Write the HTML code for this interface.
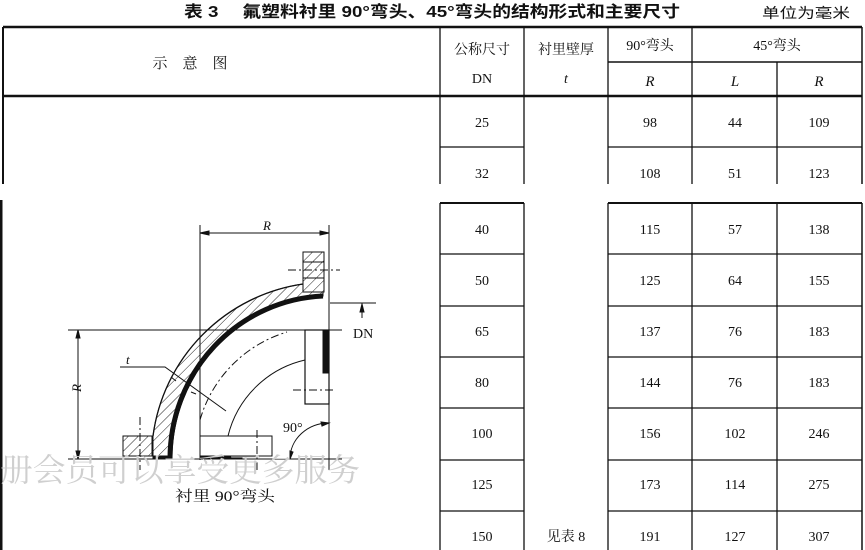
<!DOCTYPE html>
<html><head><meta charset="utf-8"><style>
html,body{margin:0;padding:0;background:#fff;}
svg{display:block;}
text{font-family:"Liberation Serif","Noto Serif CJK SC",serif;fill:#111;}
.c{font-family:"Liberation Sans","Noto Sans CJK SC",sans-serif;}
</style></head><body>
<svg width="865" height="550" viewBox="0 0 865 550" xmlns="http://www.w3.org/2000/svg">
<defs>
<pattern id="h" width="7" height="7" patternUnits="userSpaceOnUse" patternTransform="rotate(45)">
<line x1="0" y1="0" x2="0" y2="7" stroke="#222" stroke-width="1"/></pattern>
</defs>
<!-- title -->
<text x="184" y="17" class="c" font-size="16" font-weight="bold" textLength="496" lengthAdjust="spacingAndGlyphs">表 3　 氟塑料衬里 90°弯头、45°弯头的结构形式和主要尺寸</text>
<text x="762" y="18" class="c" font-size="14" textLength="88" lengthAdjust="spacingAndGlyphs">单位为毫米</text>

<!-- upper table -->
<g stroke="#111" fill="none">
<line x1="3" y1="27" x2="862" y2="27" stroke-width="2.5"/>
<line x1="3" y1="96" x2="862" y2="96" stroke-width="2.5"/>
<line x1="608" y1="62" x2="862" y2="62" stroke-width="1.5"/>
<line x1="3" y1="27" x2="3" y2="184" stroke-width="2"/>
<line x1="440" y1="27" x2="440" y2="184" stroke-width="1.3"/>
<line x1="524" y1="27" x2="524" y2="184" stroke-width="1.3"/>
<line x1="608" y1="27" x2="608" y2="184" stroke-width="1.3"/>
<line x1="692" y1="27" x2="692" y2="184" stroke-width="1.3"/>
<line x1="777" y1="62" x2="777" y2="184" stroke-width="1.3"/>
<line x1="862" y1="27" x2="862" y2="184" stroke-width="1.5"/>
<line x1="440" y1="147" x2="524" y2="147" stroke-width="1.3"/>
<line x1="608" y1="147" x2="862" y2="147" stroke-width="1.3"/>
</g>
<g font-size="14" text-anchor="middle">
<text x="190" y="68" font-size="15">示　意　图</text>
<text x="482" y="54">公称尺寸</text>
<text x="482" y="83">DN</text>
<text x="566" y="54">衬里壁厚</text>
<text x="566" y="83" font-style="italic">t</text>
<text x="650" y="50">90°弯头</text>
<text x="777" y="50">45°弯头</text>
<text x="650" y="86" font-style="italic" font-size="15">R</text>
<text x="735" y="86" font-style="italic" font-size="15">L</text>
<text x="819" y="86" font-style="italic" font-size="15">R</text>
<text x="482" y="127">25</text><text x="650" y="127">98</text><text x="735" y="127">44</text><text x="819" y="127">109</text>
<text x="482" y="178">32</text><text x="650" y="178">108</text><text x="735" y="178">51</text><text x="819" y="178">123</text>
</g>

<!-- lower table -->
<g stroke="#111" fill="none" stroke-width="1.3">
<line x1="1" y1="200" x2="1" y2="550" stroke-width="3"/>
<line x1="440" y1="203" x2="440" y2="550"/>
<line x1="524" y1="203" x2="524" y2="550"/>
<line x1="608" y1="203" x2="608" y2="550"/>
<line x1="692" y1="203" x2="692" y2="550"/>
<line x1="777" y1="203" x2="777" y2="550"/>
<line x1="862" y1="203" x2="862" y2="550" stroke-width="1.5"/>
<line x1="440" y1="203" x2="524" y2="203" stroke-width="2"/>
<line x1="608" y1="203" x2="862" y2="203" stroke-width="2"/>
<path d="M440 254H524M440 306H524M440 357H524M440 408H524M440 460H524M440 511H524"/>
<path d="M608 254H862M608 306H862M608 357H862M608 408H862M608 460H862M608 511H862"/>
</g>
<g font-size="14" text-anchor="middle">
<text x="482" y="234">40</text><text x="650" y="234">115</text><text x="735" y="234">57</text><text x="819" y="234">138</text>
<text x="482" y="285">50</text><text x="650" y="285">125</text><text x="735" y="285">64</text><text x="819" y="285">155</text>
<text x="482" y="336">65</text><text x="650" y="336">137</text><text x="735" y="336">76</text><text x="819" y="336">183</text>
<text x="482" y="387">80</text><text x="650" y="387">144</text><text x="735" y="387">76</text><text x="819" y="387">183</text>
<text x="482" y="438">100</text><text x="650" y="438">156</text><text x="735" y="438">102</text><text x="819" y="438">246</text>
<text x="482" y="489">125</text><text x="650" y="489">173</text><text x="735" y="489">114</text><text x="819" y="489">275</text>
<text x="482" y="541">150</text><text x="650" y="541">191</text><text x="735" y="541">127</text><text x="819" y="541">307</text>
<text x="566" y="541">见表 8</text>
</g>

<!-- drawing -->
<g stroke="#111" fill="none" stroke-width="1">
<line x1="200" y1="225" x2="200" y2="460"/>
<line x1="329" y1="225" x2="329" y2="470"/>
<line x1="200" y1="233" x2="329" y2="233"/>
<path d="M200 233l9 -2v4z M329 233l-9 -2v4z" fill="#111"/>
<line x1="68" y1="330" x2="342" y2="330"/>
<line x1="68" y1="459" x2="342" y2="459"/>
<line x1="330" y1="303" x2="376" y2="303"/>
<line x1="362" y1="303" x2="362" y2="318"/>
<path d="M362 304l-2 8h4z" fill="#111"/>
<line x1="78" y1="330" x2="78" y2="459"/>
<path d="M78 330l-2 8h4z M78 459l-2 -8h4z" fill="#111"/>
<path d="M153 436 A177 177 0 0 1 303 284 L303 292 L323 292 L323 296 A163 163 0 0 0 172 456 L153 456 Z" fill="url(#h)"/>
<path d="M153 436 A177 177 0 0 1 303 284" stroke-width="1.3"/>
<path d="M323 296 A160 163 0 0 0 170 459" stroke-width="5"/>
<rect x="303" y="252" width="21" height="40" fill="url(#h)"/>
<rect x="303" y="252" width="21" height="40"/>
<line x1="303" y1="262" x2="324" y2="262"/><line x1="303" y1="278" x2="324" y2="278"/>
<path d="M288 270H340" stroke-dasharray="8 3 2 3"/>
<rect x="305" y="330" width="24" height="74" fill="#fff" stroke-width="1.2"/>
<rect x="323" y="330" width="6" height="43" fill="#111"/>
<path d="M293 390H335" stroke-dasharray="8 3 2 3"/>
<rect x="123" y="436" width="29" height="20" fill="url(#h)"/>
<rect x="123" y="436" width="29" height="20"/>
<rect x="200" y="436" width="72" height="20" fill="#fff"/>
<rect x="200" y="456" width="42" height="3" fill="#111"/>
<rect x="153" y="456" width="19" height="3" fill="#111"/>
<path d="M140 417V470M257 430V470" stroke-dasharray="8 3 2 3"/>
<path d="M200 420 A129 129 0 0 1 287 332" stroke-dasharray="8 3 2 3"/>
<path d="M228 436 A103 103 0 0 1 305 360"/>
<path d="M120 367H165L226 411"/>
<path d="M176 381l-5 -4M196 394l-5 -2"/>
<path d="M290 459 A39 36 0 0 1 329 423"/>
<path d="M329 423l-8 -1 1 4z M290 459l0 -8 3 1z" fill="#111"/>
</g>
<g font-size="13">
<text x="263" y="230" font-style="italic">R</text>
<text x="353" y="338" font-size="14">DN</text>
<text x="126" y="364" font-style="italic">t</text>
<text x="283" y="432" font-size="14">90°</text>
<text x="76" y="397" font-style="italic" transform="rotate(-90 76 392)">R</text>
</g>
<text x="0" y="481" font-size="32" style="fill:#cfcfcf" textLength="360" lengthAdjust="spacingAndGlyphs">册会员可以享受更多服务</text>
<text x="175" y="501" font-size="15" textLength="100" lengthAdjust="spacingAndGlyphs">衬里 90°弯头</text>
</svg>
</body></html>
